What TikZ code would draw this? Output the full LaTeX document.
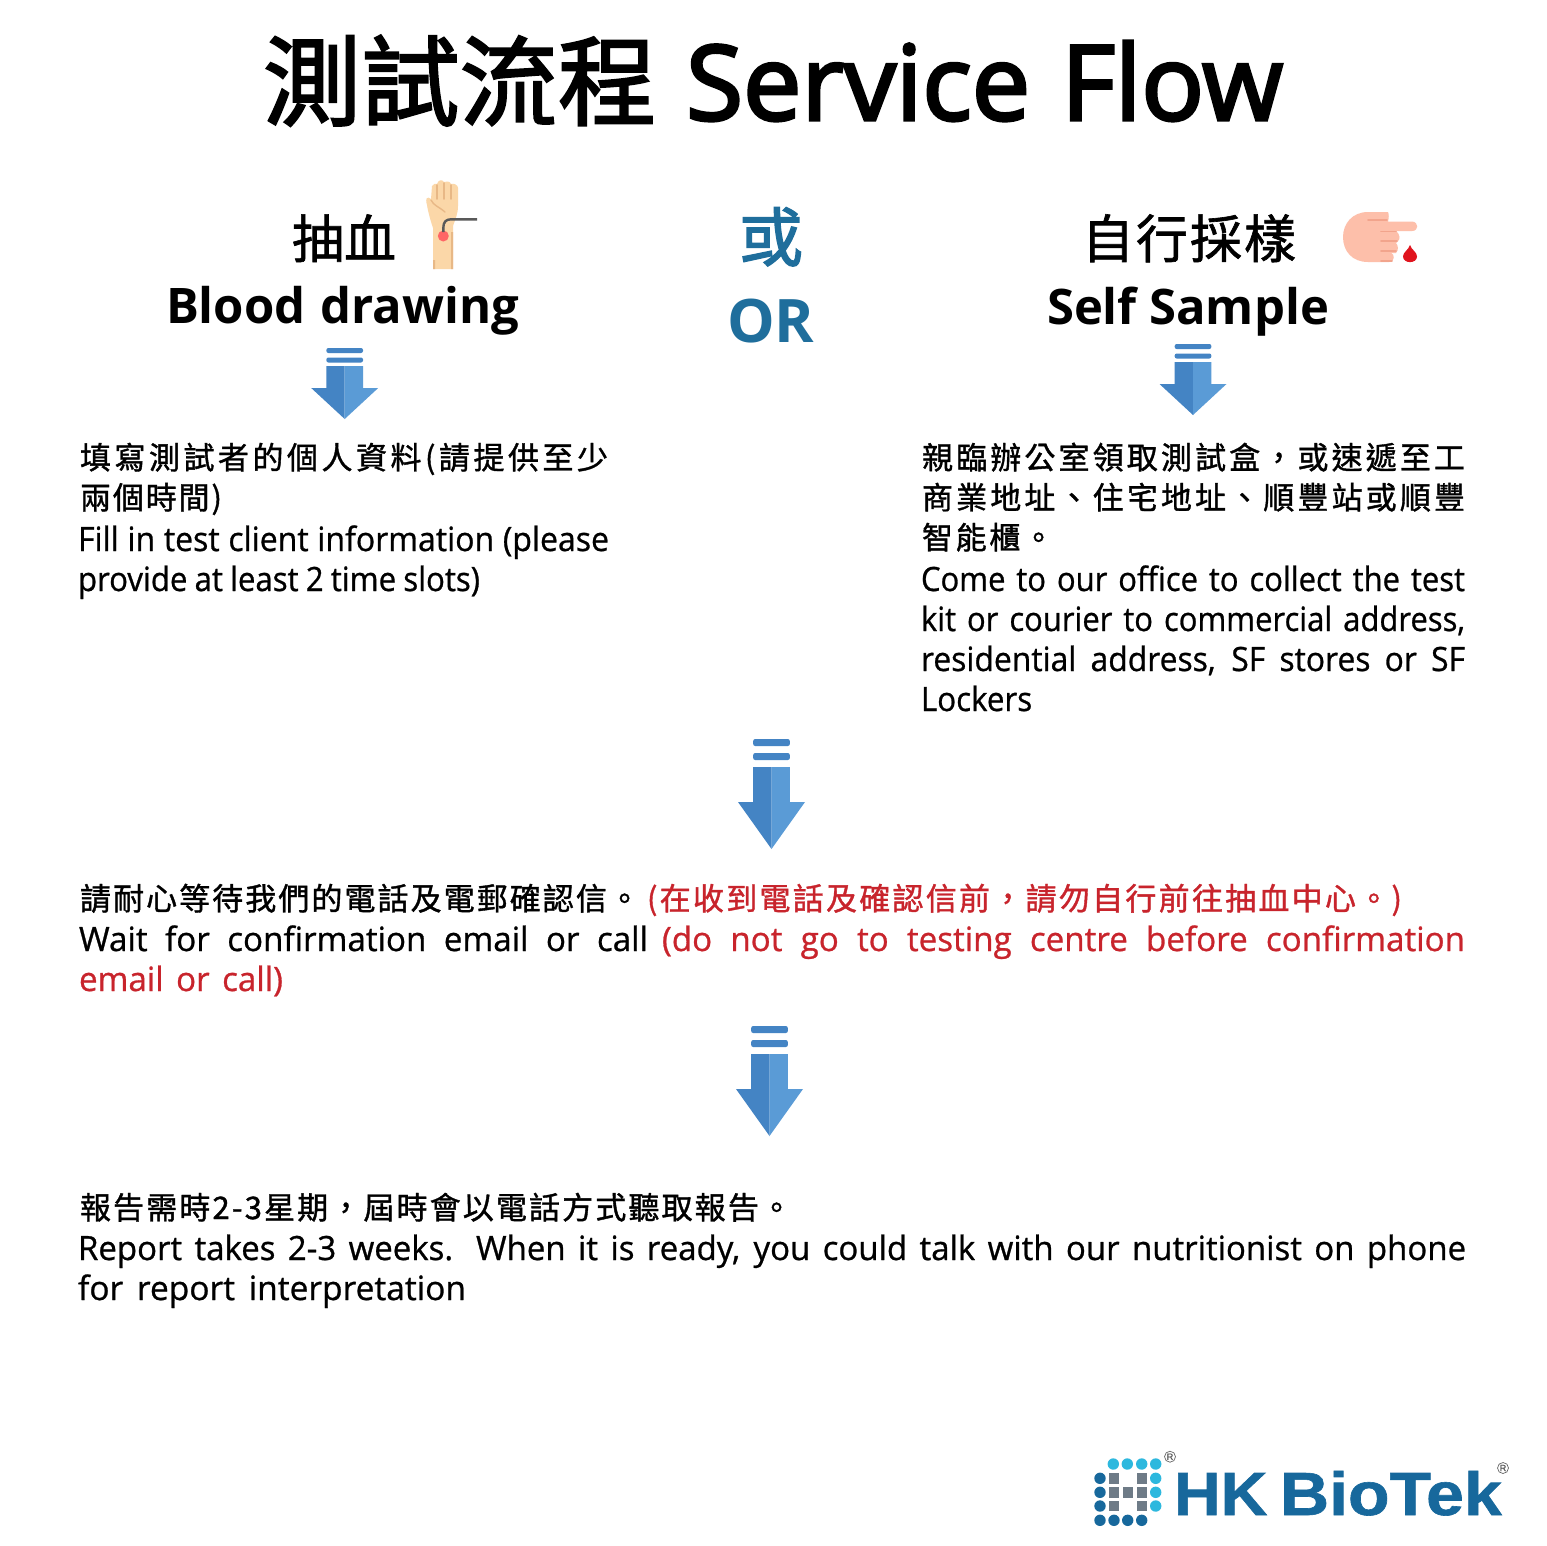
\documentclass[tikz,border=0pt]{standalone}
\usepackage{fontspec}
\setmainfont{Open Sans}
\newfontfamily\cjk[FakeBold=1.2]{Noto Sans CJK TC}
\newfontfamily\cjkt[FakeBold=2.2]{Noto Sans CJK TC}
\newfontfamily\lat[FakeBold=0.8]{Open Sans}
\newfontfamily\latt[FakeBold=3]{Open Sans}
\newfontfamily\latb{Open Sans}
\newfontfamily\logofont[FakeBold=1]{Liberation Sans}
\hbadness=10000 \hfuzz=20pt
\definecolor{orblue}{HTML}{1F6E9C}
\definecolor{redtxt}{HTML}{C8242C}
\definecolor{arrL}{HTML}{4484C4}
\definecolor{arrR}{HTML}{5A9BD6}
\definecolor{logoD}{HTML}{17689C}
\definecolor{logoL}{HTML}{2DB8DE}
\definecolor{logoG}{HTML}{6E7B87}
\definecolor{skin}{HTML}{FBD7A8}
\definecolor{skinS}{HTML}{E8B886}
\definecolor{peach}{HTML}{FDBFAA}
\definecolor{peachS}{HTML}{F2A48C}
\definecolor{dropred}{HTML}{E0141E}
\def\spr#1#2{#1\ifx\relax#2\else\hfil\expandafter\spr\expandafter#2\fi}
\newcommand\fsz[1]{\fontsize{#1}{#1}\selectfont}
\newcommand\bodycjk{\cjk\fsz{31}}
\newcommand\bodylat{\lat\fsz{33.5}}
% name, x, baseline y, width, content
\newcommand\txtline[5]{\node[txt] (#1) at (#2,#3) {\hbox to #4pt{#5}};}
\newcommand\cjkline[5]{\txtline{#1}{#2}{#3}{#4}{\bodycjk\spr #5\relax}}
\newcommand\latline[6][0.96]{\txtline{#2}{#3}{#4}{#5}{\bodylat\addfontfeature{FakeStretch=#1}#6}}
% down arrow: centre x, top y, bar height, gap, shaft top, head top, tip y
\newcommand\dnarrow[7]{%
  \fill[arrL,rounded corners=2pt] (#1-18.3,#2) rectangle (#1+18.3,#2+#3);
  \fill[arrL,rounded corners=2pt] (#1-18.3,#2+#3+#4) rectangle (#1+18.3,#2+#3+#4+#3);
  \fill[arrL] (#1,#5) -- (#1-18.3,#5) -- (#1-18.3,#6) -- (#1-33.5,#6) -- (#1,#7) -- cycle;
  \fill[arrR] (#1,#5) -- (#1+18.3,#5) -- (#1+18.3,#6) -- (#1+33.5,#6) -- (#1,#7) -- cycle;
}
\tikzset{txt/.style={anchor=base west,inner sep=0pt,outer sep=0pt},
  reg/.style={circle,draw=gray!80!black,line width=0.7pt,inner sep=0pt,minimum size=11pt,font=\logofont\fsz{9}\color{gray!70!black}}}
\begin{document}
\begin{tikzpicture}[x=1pt,y=-1pt]
\useasboundingbox (0,0) rectangle (1547,1545);
\fill[white] (0,0) rectangle (1547,1545);
% title
\txtline{titlec}{263}{118}{393}{\cjkt\fsz{98}\spr 測試流程\relax}
\txtline{titlel}{686}{120}{597}{\latt\fsz{104}Service Flow}
% left head
\txtline{hl}{292}{258}{104}{\cjk\fsz{52}\spr 抽血\relax}
\txtline{hle}{166}{323}{353}{\latb\bfseries\fsz{49}Blood drawing}
% or
\txtline{orc}{739}{261}{64}{\cjkt\color{orblue}\fsz{64}或}
\txtline{orl}{727}{342}{84}{\latb\bfseries\color{orblue}\fsz{60}OR}
% right head
\txtline{hr}{1082}{258}{214}{\cjk\fsz{52}\spr 自行採樣\relax}
\txtline{hre}{1047}{324}{282}{\latb\bfseries\fsz{49}Self Sample}
% hand icon
\fill[skin] (433,269) -- (433,228) .. controls (431,222) and (428,212) .. (427,205)
  .. controls (425,198) and (427,196) .. (431,199) -- (432,186)
  .. controls (433,183) and (436,184) .. (437,184)
  .. controls (438,180) and (442,179) .. (444,182)
  .. controls (446,181) and (450,181) .. (451,184)
  .. controls (454,183) and (458,185) .. (458,188)
  -- (458,206) .. controls (458,214) and (455,220) .. (453,226) -- (453,269) -- cycle;
\draw[skinS,line width=1.6pt,line cap=round] (437,185) -- (437,199) (444,183) -- (444,199) (451,185) -- (451,199);
\draw[skinS,line width=1.4pt,line cap=round] (431,200) .. controls (434,206) and (438,206) .. (445,212);
\fill[skinS] (433,260) rectangle (435,269) (451,232) rectangle (453,269);
\fill[red!60!white] (443.3,236) circle (5.5);
\draw[black!65,line width=2.4pt] (477,219.3) -- (451,219.3) .. controls (446,219.3) and (443.3,222) .. (443.3,228) -- (443.3,232);
% finger icon
\fill[peach] (1388,212) -- (1368,212) .. controls (1352,212) and (1343,224) .. (1343,237)
  .. controls (1343,251) and (1352,262) .. (1368,262) -- (1389,262) .. controls (1395,262) and (1395,254) .. (1391,253)
  -- (1396,253) .. controls (1399,250) and (1398,245) .. (1396,243) -- (1397,242) .. controls (1401,240) and (1400,234) .. (1396,231)
  -- (1412,231) .. controls (1419,231) and (1419,222) .. (1412,221.5) -- (1388,221.5)
  .. controls (1389,218) and (1389,214) .. (1388,212) -- cycle;
\draw[peachS,line width=1.6pt,line cap=round] (1368,220) -- (1387,220)
  (1381,231.5) -- (1396,231.5) (1381,241) -- (1397,241) (1381,251) -- (1396,251) (1381,261) -- (1392,261);
\fill[dropred] (1410,245) .. controls (1411.5,250) and (1417,252) .. (1417,256.5)
  .. controls (1417,264) and (1403,264) .. (1403,256.5) .. controls (1403,252) and (1408.5,250) .. (1410,245) -- cycle;
% arrows
\dnarrow{344.7}{348}{5}{4.5}{366}{388}{419}
\dnarrow{1193}{344}{5}{4.5}{362}{384}{415}
\dnarrow{771.5}{739}{7}{7}{767}{802}{849}
\dnarrow{769.5}{1026}{7}{7}{1054}{1089}{1136}
% left text
\cjkline{a1}{80}{469}{528}{填寫測試者的個人資料(請提供至少}
\cjkline{a2}{80}{509}{142}{兩個時間)}
\latline[0.955]{a3}{78}{551}{531}{Fill in test client information (please}
\latline[0.93]{a4}{78}{591}{402}{provide at least 2 time slots)}
% right text
\cjkline{b1}{922}{469}{543}{親臨辦公室領取測試盒，或速遞至工}
\cjkline{b2}{922}{509}{543}{商業地址、住宅地址、順豐站或順豐}
\cjkline{b3}{922}{549}{132}{智能櫃。}
\latline[0.925]{b4}{921}{591}{544}{Come to our office to collect the test}
\latline[0.925]{b5}{921}{631}{544}{kit or courier to commercial address,}
\latline[0.95]{b6}{921}{671}{544}{residential address, SF stores or SF}
\latline[0.935]{b7}{921}{711}{109}{Lockers}
% middle text
\cjkline{c1}{80}{910}{560}{請耐心等待我們的電話及電郵確認信。}
\txtline{c2}{647}{910}{755}{\bodycjk\color{redtxt}\spr (在收到電話及確認信前，請勿自行前往抽血中心。)\relax}
\latline[0.99]{c3}{79}{951}{569}{Wait for confirmation email or call}
\latline[0.99]{c4}{662}{951}{803}{\color{redtxt}(do not go to testing centre before confirmation}
\latline[0.99]{c5}{79}{991}{204}{\color{redtxt}email or call)}
% bottom text
\cjkline{d1}{80}{1219}{712}{報告需時2-3星期，屆時會以電話方式聽取報告。}
\latline[0.985]{d2}{78}{1260}{1388}{Report takes 2-3 weeks. When it is ready, you could talk with our nutritionist on phone}
\latline[1.0]{d3}{78}{1300}{388}{for report interpretation}
% logo
\foreach \x in {1113.3,1127.3,1141.7,1155.7} \fill[logoL] (\x,1464) circle (5.7);
\foreach \y in {1478.3,1492.3,1506} \fill[logoL] (1155.7,\y) circle (5.7);
\foreach \y in {1478.3,1492.3,1506,1520.3} \fill[logoD] (1100,\y) circle (5.7);
\foreach \x in {1114,1127.7,1141.7} \fill[logoD] (\x,1520.3) circle (5.7);
\foreach \x/\y in {1114/1478.3,1141.7/1478.3,1114/1492.3,1127.7/1492.3,1141.7/1492.3,1114/1506,1141.7/1506}
  \fill[logoG] (\x-5.2,\y-5.2) rectangle (\x+5.2,\y+5.2);
\node[txt] (logo1) at (1174,1515) {\logofont\bfseries\color{logoD}\fsz{61}\scalebox{1.06}[1]{HK}};
\node[txt] (logo2) at (1280,1515) {\logofont\bfseries\color{logoD}\fsz{61}\scalebox{1.115}[1]{BioTek}};
\node[reg] (r1) at (1170,1456.7) {R};
\node[reg] (r2) at (1503,1468) {R};
\end{tikzpicture}
\end{document}
